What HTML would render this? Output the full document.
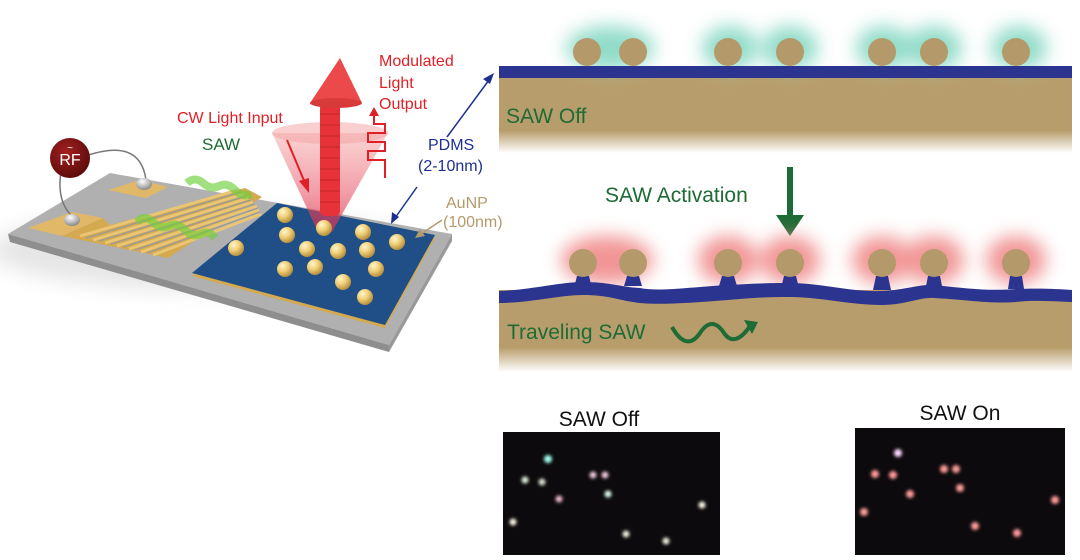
<!DOCTYPE html>
<html><head><meta charset="utf-8"><style>
html,body{margin:0;padding:0;background:#fff;}
svg{display:block;font-family:"Liberation Sans",Arial,sans-serif;}
</style></head><body>
<svg width="1080" height="560" viewBox="0 0 1080 560" xmlns="http://www.w3.org/2000/svg">
<defs>
<filter id="b6" x="-1" y="-1" width="3" height="3"><feGaussianBlur stdDeviation="9"/></filter>
<filter id="b2"><feGaussianBlur stdDeviation="1.6"/></filter>
<filter id="b8" x="-0.5" y="-0.5" width="2" height="2"><feGaussianBlur stdDeviation="10"/></filter>
<linearGradient id="tanf1" x1="0" y1="0" x2="0" y2="1"><stop offset="0.7" stop-color="#b89d6c"/><stop offset="1" stop-color="#b89d6c" stop-opacity="0"/></linearGradient>
<radialGradient id="ball" cx="0.35" cy="0.3" r="0.7"><stop offset="0" stop-color="#fff6cc"/><stop offset="0.5" stop-color="#f0cf78"/><stop offset="1" stop-color="#b8903e"/></radialGradient>
<radialGradient id="silver" cx="0.4" cy="0.3" r="0.7"><stop offset="0" stop-color="#fff"/><stop offset="1" stop-color="#8a8a8a"/></radialGradient>
<radialGradient id="rf" cx="0.4" cy="0.35" r="0.7"><stop offset="0" stop-color="#a32020"/><stop offset="1" stop-color="#5a0a0a"/></radialGradient>
<linearGradient id="cone" x1="0" y1="0" x2="0" y2="1"><stop offset="0" stop-color="#f08080" stop-opacity="0.35"/><stop offset="1" stop-color="#e03050" stop-opacity="0.7"/></linearGradient>
</defs>

<!-- left device shadow -->
<ellipse cx="200" cy="250" rx="210" ry="40" fill="#e6e6e6" filter="url(#b8)"/>
<!-- gray plate -->
<polygon points="8,234 110,173 452,234 389,345" fill="#b0b0b0"/>
<polygon points="8,234 389,345 389,352 10,242" fill="#8e8e8e"/>
<polygon points="389,345 452,234 452,241 389,352" fill="#999"/>
<!-- gold pads -->
<polygon points="108,190 140,180 168,187 146,198" fill="#e0b868"/>
<polygon points="28,228 72,212 103,218 62,236" fill="#e0b868"/>
<!-- comb region -->
<polygon points="62,236 103,218 110,225 245,188 262,197 168,258" fill="#d4a94f"/>
<g stroke="#e9c574" stroke-width="3">
<line x1="80" y1="236" x2="238" y2="190"/>
<line x1="93" y1="240" x2="244" y2="194"/>
<line x1="105" y1="243" x2="249" y2="198"/>
<line x1="117" y1="246" x2="253" y2="202"/>
<line x1="129" y1="249" x2="257" y2="206"/>
<line x1="141" y1="252" x2="259" y2="210"/>
<line x1="153" y1="255" x2="261" y2="214"/>
</g>
<g stroke="#9a9a9a" stroke-width="1.3">
<line x1="86" y1="238" x2="241" y2="192"/>
<line x1="99" y1="241" x2="246" y2="196"/>
<line x1="111" y1="244" x2="251" y2="200"/>
<line x1="123" y1="247" x2="255" y2="204"/>
<line x1="135" y1="250" x2="258" y2="208"/>
<line x1="147" y1="253" x2="260" y2="212"/>
</g>
<!-- green SAW wave on fingers -->
<path d="M137,222 q8,-8 16,0 t16,4 t16,4 t16,4 t14,4 M187,183 q8,-7 16,0 t16,3 t16,4 t16,4" stroke="#6fcf3a" stroke-width="8" fill="none" opacity="0.65"/>
<!-- wires & RF -->
<path d="M80,158 Q140,135 146,180" stroke="#777" stroke-width="1.5" fill="none"/>
<path d="M62,166 Q55,200 72,216" stroke="#777" stroke-width="1.5" fill="none"/>
<ellipse cx="144" cy="184" rx="8" ry="6" fill="url(#silver)"/>
<ellipse cx="72" cy="220" rx="8" ry="6" fill="url(#silver)"/>
<circle cx="70" cy="158" r="20" fill="url(#rf)"/>
<text x="70" y="165" fill="#fff" font-size="16" text-anchor="middle">RF</text>
<text x="70" y="151" fill="#fff" font-size="10" text-anchor="middle">~</text>
<!-- blue square -->
<polygon points="192,276 277,206 435,238 385,328" fill="#d4a94f"/>
<polygon points="192,273 277,203 435,235 385,325" fill="#1f4f86"/>
<!-- balls -->
<g fill="url(#ball)">
<circle cx="285" cy="215" r="8"/><circle cx="287" cy="235" r="8"/><circle cx="363" cy="232" r="8"/><circle cx="397" cy="242" r="8"/>
<circle cx="236" cy="248" r="8"/><circle cx="307" cy="249" r="8"/><circle cx="338" cy="251" r="8"/><circle cx="367" cy="250" r="8"/>
<circle cx="285" cy="269" r="8"/><circle cx="315" cy="267" r="8"/><circle cx="376" cy="269" r="8"/><circle cx="343" cy="282" r="8"/>
<circle cx="365" cy="297" r="8"/>
</g>
<!-- cone -->
<path d="M272,133 L318,232 L332,232 L388,133 Z" fill="url(#cone)"/>
<ellipse cx="330" cy="133" rx="58" ry="11" fill="#f4a0a0" opacity="0.5"/>
<!-- red column -->
<rect x="320" y="103" width="20" height="113" rx="5" fill="#e8323a"/>
<g stroke="#b01c22" stroke-width="1" opacity="0.6">
<line x1="320" y1="114" x2="340" y2="114"/><line x1="320" y1="125" x2="340" y2="125"/><line x1="320" y1="136" x2="340" y2="136"/><line x1="320" y1="147" x2="340" y2="147"/><line x1="320" y1="158" x2="340" y2="158"/><line x1="320" y1="169" x2="340" y2="169"/><line x1="320" y1="180" x2="340" y2="180"/><line x1="320" y1="191" x2="340" y2="191"/><line x1="320" y1="202" x2="340" y2="202"/>
</g>
<polygon points="340,58 310,103 362,103" fill="#ec4a4a"/>
<ellipse cx="336" cy="103" rx="26" ry="5" fill="#d83a3a"/>
<circle cx="324" cy="228" r="8" fill="url(#ball)"/>
<!-- CW arrow -->
<line x1="287" y1="140" x2="305" y2="183" stroke="#e01f26" stroke-width="2"/>
<polygon points="309,193 299,181 309,178" fill="#e01f26"/>
<!-- square wave -->
<path d="M385,178 V160 H368 V151 H385 V142 H368 V133 H385 V124 H374 V114" stroke="#e01f26" stroke-width="2" fill="none"/>
<polygon points="374,107 369,116 379,116" fill="#e01f26"/>
<!-- labels -->
<g fill="#e01f26" font-size="16">
<text x="379" y="66">Modulated</text><text x="379" y="88">Light</text><text x="379" y="109">Output</text>
<text x="177" y="123">CW Light Input</text>
</g>
<text x="202" y="150" fill="#1e6b35" font-size="17">SAW</text>
<g fill="#1f2f8f" font-size="16">
<text x="428" y="150">PDMS</text><text x="418" y="171">(2-10nm)</text>
</g>
<g fill="#b49a6a" font-size="16">
<text x="446" y="208">AuNP</text><text x="443" y="227">(100nm)</text>
</g>
<line x1="447" y1="137" x2="489" y2="80" stroke="#1f2f8f" stroke-width="1.5"/>
<polygon points="494,73 483,79 490,84" fill="#1f2f8f"/>
<line x1="417" y1="187" x2="395" y2="218" stroke="#1f2f8f" stroke-width="1.5"/>
<polygon points="391,224 392,212 399,217" fill="#1f2f8f"/>
<line x1="442" y1="220" x2="421" y2="234" stroke="#b49a6a" stroke-width="1.5"/>
<polygon points="415,238 420,229 425,236" fill="#b49a6a"/>

<!-- top panel -->
<rect x="499" y="78" width="573" height="75" fill="url(#tanf1)"/>
<g fill="#7fd6c0" opacity="0.85" filter="url(#b6)">
<ellipse cx="610" cy="48" rx="44" ry="22"/><ellipse cx="730" cy="48" rx="28" ry="22"/><ellipse cx="790" cy="48" rx="28" ry="22"/>
<ellipse cx="884" cy="48" rx="28" ry="22"/><ellipse cx="934" cy="48" rx="28" ry="22"/><ellipse cx="1019" cy="48" rx="28" ry="22"/>
</g>
<g fill="#b49a6a">
<circle cx="587" cy="52" r="14"/><circle cx="633" cy="52" r="14"/><circle cx="728" cy="52" r="14"/><circle cx="790" cy="52" r="14"/>
<circle cx="882" cy="52" r="14"/><circle cx="934" cy="52" r="14"/><circle cx="1016" cy="52" r="14"/>
</g>
<rect x="499" y="66" width="573" height="12" fill="#2b3590"/>
<text x="506" y="123" fill="#1e6b35" font-size="21">SAW Off</text>

<!-- activation -->
<text x="605" y="202" fill="#1e6b35" font-size="21">SAW Activation</text>
<rect x="787" y="167" width="6" height="50" fill="#1e6b35"/>
<polygon points="776,215 804,215 790,236" fill="#1e6b35"/>

<!-- bottom panel -->
<rect x="499" y="290" width="573" height="82" fill="url(#tanf1)"/>
<g fill="#f08a8a" opacity="0.9" filter="url(#b6)">
<ellipse cx="607" cy="260" rx="46" ry="24"/><ellipse cx="728" cy="260" rx="30" ry="24"/><ellipse cx="790" cy="260" rx="30" ry="24"/>
<ellipse cx="882" cy="260" rx="30" ry="24"/><ellipse cx="934" cy="260" rx="30" ry="24"/><ellipse cx="1016" cy="260" rx="30" ry="24"/>
</g>
<path d="M499,291 C530,290 560,282 583,282 C610,282 620,287 640,288 C660,292 690,287 728,285 C760,283 775,283 790,283 C820,283 850,292 882,291 C905,290 920,284 934,285 C970,289 990,291 1016,289 C1040,288 1060,289 1072,290 L1072,302 C1050,301 1030,300 1016,302 C990,304 970,300 934,298 C920,297 905,305 882,305 C850,305 820,297 790,297 C775,297 760,297 728,300 C690,303 660,305 640,303 C620,301 610,295 583,295 C560,295 530,303 499,303 Z" fill="#2b3590"/>
<g fill="#2b3590">
<path d="M577,276 h12 l2,8 h-16 z"/><path d="M627,276 h12 l3,10 h-18 z"/><path d="M722,276 h12 l3,10 h-18 z"/><path d="M784,276 h12 l2,8 h-16 z"/>
<path d="M876,276 h12 l3,14 h-18 z"/><path d="M928,276 h12 l2,10 h-16 z"/><path d="M1010,276 h12 l2,13 h-16 z"/>
</g>
<g fill="#b49a6a">
<circle cx="583" cy="263" r="14"/><circle cx="633" cy="263" r="14"/><circle cx="728" cy="263" r="14"/><circle cx="790" cy="263" r="14"/>
<circle cx="882" cy="263" r="14"/><circle cx="934" cy="263" r="14"/><circle cx="1016" cy="263" r="14"/>
</g>
<text x="507" y="339" fill="#1e6b35" font-size="21">Traveling SAW</text>
<path d="M672,327 C682,345 692,345 700,333 C708,321 716,321 724,333 C732,345 742,338 750,326" stroke="#1e6b35" stroke-width="4" fill="none"/>
<polygon points="758,322 744,320 752,334" fill="#1e6b35"/>

<!-- photos -->
<text x="599" y="426" fill="#111" font-size="21" text-anchor="middle">SAW Off</text>
<rect x="503" y="432" width="217" height="123" fill="#0c0a0c"/>
<g filter="url(#b2)">
<circle cx="548" cy="459" r="4" fill="#a0fff0"/>
<circle cx="525" cy="480" r="3.5" fill="#e0f0e0"/><circle cx="542" cy="482" r="3.5" fill="#d8e0d0"/>
<circle cx="593" cy="475" r="3.5" fill="#f0c8e0"/><circle cx="605" cy="475" r="3.5" fill="#f0c8e0"/>
<circle cx="608" cy="494" r="3.5" fill="#e0fff0"/><circle cx="559" cy="499" r="3.5" fill="#f0b8d0"/>
<circle cx="702" cy="505" r="3.5" fill="#fff8e8"/><circle cx="513" cy="522" r="3.5" fill="#fff8e8"/>
<circle cx="626" cy="534" r="3.5" fill="#f0f0e0"/><circle cx="666" cy="541" r="3.5" fill="#f0f0e0"/>
</g>
<text x="960" y="420" fill="#111" font-size="21" text-anchor="middle">SAW On</text>
<rect x="855" y="428" width="210" height="127" fill="#0c0a0c"/>
<g filter="url(#b2)" fill="#ff9a9a">
<circle cx="898" cy="453" r="4" fill="#ffd8ff"/>
<circle cx="875" cy="474" r="4"/><circle cx="893" cy="475" r="4"/>
<circle cx="944" cy="469" r="4"/><circle cx="956" cy="469" r="4"/><circle cx="960" cy="488" r="4"/>
<circle cx="910" cy="494" r="4"/><circle cx="1055" cy="500" r="4"/><circle cx="864" cy="512" r="4"/>
<circle cx="975" cy="526" r="4"/><circle cx="1017" cy="533" r="4"/>
</g>
</svg>
</body></html>
